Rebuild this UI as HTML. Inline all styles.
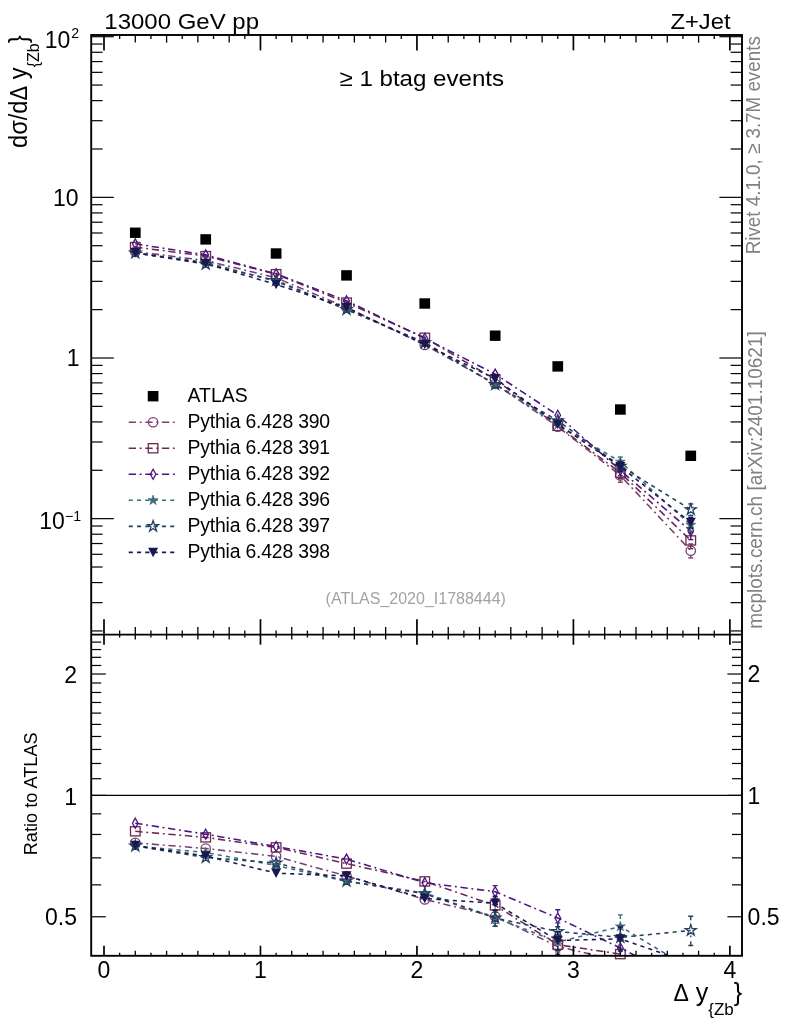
<!DOCTYPE html>
<html lang="en">
<head>
<meta charset="utf-8">
<title>Z+Jet : ATLAS_2020_I1788444</title>
<style>
html,body{margin:0;padding:0;background:#fff;}
body{width:786px;height:1024px;overflow:hidden;}
svg{display:block;will-change:transform;}
text{white-space:pre;}
</style>
</head>
<body>
<svg width="786" height="1024" viewBox="0 0 786 1024" font-family="'Liberation Sans', sans-serif">
<defs>
<clipPath id="cm"><rect x="91.2" y="35" width="650.8" height="599.6"/></clipPath>
<clipPath id="cr"><rect x="91.2" y="634.6" width="650.8" height="321.2"/></clipPath>
</defs>
<rect width="786" height="1024" fill="#fff"/>
<g id="main-curves">
<polyline points="135.29,251.64 205.71,260.56 276.12,277.8 346.53,307.51 424.76,344.94 495.18,383.95 557.76,426.6 620.35,475.48 690.76,550.71" fill="none" stroke="#7a3f73" stroke-width="1.55" stroke-dasharray="7.3 3.7 1.9 3.7" clip-path="url(#cm)"/>
<circle cx="135.29" cy="251.64" r="4.7" fill="none" stroke="#7a3f73" stroke-width="1.3"/>
<circle cx="205.71" cy="260.56" r="4.7" fill="none" stroke="#7a3f73" stroke-width="1.3"/>
<circle cx="276.12" cy="277.8" r="4.7" fill="none" stroke="#7a3f73" stroke-width="1.3"/>
<circle cx="346.53" cy="307.51" r="4.7" fill="none" stroke="#7a3f73" stroke-width="1.3"/>
<circle cx="424.76" cy="344.94" r="4.7" fill="none" stroke="#7a3f73" stroke-width="1.3"/>
<circle cx="495.18" cy="383.95" r="4.7" fill="none" stroke="#7a3f73" stroke-width="1.3"/>
<circle cx="557.76" cy="426.6" r="4.7" fill="none" stroke="#7a3f73" stroke-width="1.3"/>
<line x1="620.35" y1="469.11" x2="620.35" y2="470.68" stroke="#7a3f73" stroke-width="1.4" stroke-dasharray="7.3 3.7 1.9 3.7"/>
<line x1="617.85" y1="469.11" x2="622.85" y2="469.11" stroke="#7a3f73" stroke-width="1.4"/>
<line x1="620.35" y1="482.24" x2="620.35" y2="480.28" stroke="#7a3f73" stroke-width="1.4" stroke-dasharray="7.3 3.7 1.9 3.7"/>
<line x1="617.85" y1="482.24" x2="622.85" y2="482.24" stroke="#7a3f73" stroke-width="1.4"/>
<circle cx="620.35" cy="475.48" r="4.7" fill="none" stroke="#7a3f73" stroke-width="1.3"/>
<line x1="690.76" y1="543.93" x2="690.76" y2="545.91" stroke="#7a3f73" stroke-width="1.4" stroke-dasharray="7.3 3.7 1.9 3.7"/>
<line x1="688.26" y1="543.93" x2="693.26" y2="543.93" stroke="#7a3f73" stroke-width="1.4"/>
<line x1="690.76" y1="557.89" x2="690.76" y2="555.51" stroke="#7a3f73" stroke-width="1.4" stroke-dasharray="7.3 3.7 1.9 3.7"/>
<line x1="688.26" y1="557.89" x2="693.26" y2="557.89" stroke="#7a3f73" stroke-width="1.4"/>
<circle cx="690.76" cy="550.71" r="4.7" fill="none" stroke="#7a3f73" stroke-width="1.3"/>
<polyline points="135.29,247.05 205.71,256.13 276.12,274.22 346.53,302.57 424.76,337.77 495.18,379.53 557.76,425.89 620.35,472.73 690.76,540.43" fill="none" stroke="#6b2a4f" stroke-width="1.55" stroke-dasharray="7.3 3.7 1.9 3.7" clip-path="url(#cm)"/>
<rect x="130.49" y="242.45" width="9.6" height="9.2" fill="none" stroke="#6b2a4f" stroke-width="1.3"/>
<rect x="200.91" y="251.53" width="9.6" height="9.2" fill="none" stroke="#6b2a4f" stroke-width="1.3"/>
<rect x="271.32" y="269.62" width="9.6" height="9.2" fill="none" stroke="#6b2a4f" stroke-width="1.3"/>
<rect x="341.73" y="297.97" width="9.6" height="9.2" fill="none" stroke="#6b2a4f" stroke-width="1.3"/>
<rect x="419.96" y="333.17" width="9.6" height="9.2" fill="none" stroke="#6b2a4f" stroke-width="1.3"/>
<rect x="490.38" y="374.93" width="9.6" height="9.2" fill="none" stroke="#6b2a4f" stroke-width="1.3"/>
<rect x="552.96" y="421.29" width="9.6" height="9.2" fill="none" stroke="#6b2a4f" stroke-width="1.3"/>
<line x1="620.35" y1="467.15" x2="620.35" y2="467.93" stroke="#6b2a4f" stroke-width="1.4" stroke-dasharray="7.3 3.7 1.9 3.7"/>
<line x1="617.85" y1="467.15" x2="622.85" y2="467.15" stroke="#6b2a4f" stroke-width="1.4"/>
<line x1="620.35" y1="478.64" x2="620.35" y2="477.53" stroke="#6b2a4f" stroke-width="1.4" stroke-dasharray="7.3 3.7 1.9 3.7"/>
<line x1="617.85" y1="478.64" x2="622.85" y2="478.64" stroke="#6b2a4f" stroke-width="1.4"/>
<rect x="615.55" y="468.13" width="9.6" height="9.2" fill="none" stroke="#6b2a4f" stroke-width="1.3"/>
<line x1="690.76" y1="532.62" x2="690.76" y2="535.63" stroke="#6b2a4f" stroke-width="1.4" stroke-dasharray="7.3 3.7 1.9 3.7"/>
<line x1="688.26" y1="532.62" x2="693.26" y2="532.62" stroke="#6b2a4f" stroke-width="1.4"/>
<line x1="690.76" y1="548.71" x2="690.76" y2="545.23" stroke="#6b2a4f" stroke-width="1.4" stroke-dasharray="7.3 3.7 1.9 3.7"/>
<line x1="688.26" y1="548.71" x2="693.26" y2="548.71" stroke="#6b2a4f" stroke-width="1.4"/>
<rect x="685.96" y="535.83" width="9.6" height="9.2" fill="none" stroke="#6b2a4f" stroke-width="1.3"/>
<polyline points="135.29,243.83 205.71,254.86 276.12,273.86 346.53,300.78 424.76,338.28 495.18,374.07 557.76,415.25 620.35,470.3 690.76,530.95" fill="none" stroke="#4b1480" stroke-width="1.55" stroke-dasharray="7.3 3.7 1.9 3.7" clip-path="url(#cm)"/>
<polygon points="135.29,238.83 138.09,243.83 135.29,248.83 132.49,243.83" fill="none" stroke="#4b1480" stroke-width="1.3"/>
<polygon points="205.71,249.86 208.51,254.86 205.71,259.86 202.91,254.86" fill="none" stroke="#4b1480" stroke-width="1.3"/>
<polygon points="276.12,268.86 278.92,273.86 276.12,278.86 273.32,273.86" fill="none" stroke="#4b1480" stroke-width="1.3"/>
<polygon points="346.53,295.78 349.33,300.78 346.53,305.78 343.73,300.78" fill="none" stroke="#4b1480" stroke-width="1.3"/>
<polygon points="424.76,333.28 427.56,338.28 424.76,343.28 421.96,338.28" fill="none" stroke="#4b1480" stroke-width="1.3"/>
<polygon points="495.18,369.07 497.98,374.07 495.18,379.07 492.38,374.07" fill="none" stroke="#4b1480" stroke-width="1.3"/>
<polygon points="557.76,410.25 560.56,415.25 557.76,420.25 554.96,415.25" fill="none" stroke="#4b1480" stroke-width="1.3"/>
<line x1="620.35" y1="465.12" x2="620.35" y2="465.5" stroke="#4b1480" stroke-width="1.4" stroke-dasharray="7.3 3.7 1.9 3.7"/>
<line x1="617.85" y1="465.12" x2="622.85" y2="465.12" stroke="#4b1480" stroke-width="1.4"/>
<line x1="620.35" y1="475.79" x2="620.35" y2="475.1" stroke="#4b1480" stroke-width="1.4" stroke-dasharray="7.3 3.7 1.9 3.7"/>
<line x1="617.85" y1="475.79" x2="622.85" y2="475.79" stroke="#4b1480" stroke-width="1.4"/>
<polygon points="620.35,465.3 623.15,470.3 620.35,475.3 617.55,470.3" fill="none" stroke="#4b1480" stroke-width="1.3"/>
<line x1="690.76" y1="522.74" x2="690.76" y2="526.15" stroke="#4b1480" stroke-width="1.4" stroke-dasharray="7.3 3.7 1.9 3.7"/>
<line x1="688.26" y1="522.74" x2="693.26" y2="522.74" stroke="#4b1480" stroke-width="1.4"/>
<line x1="690.76" y1="539.65" x2="690.76" y2="535.75" stroke="#4b1480" stroke-width="1.4" stroke-dasharray="7.3 3.7 1.9 3.7"/>
<line x1="688.26" y1="539.65" x2="693.26" y2="539.65" stroke="#4b1480" stroke-width="1.4"/>
<polygon points="690.76,525.95 693.56,530.95 690.76,535.95 687.96,530.95" fill="none" stroke="#4b1480" stroke-width="1.3"/>
<polyline points="135.29,252.91 205.71,262.15 276.12,281.43 346.53,309.71 424.76,342.39 495.18,384.35 557.76,424.81 620.35,461.74 690.76,524.97" fill="none" stroke="#3f6b78" stroke-width="1.55" stroke-dasharray="4.1 4.2" clip-path="url(#cm)"/>
<polygon points="135.29,247.71 136.46,251.3 140.24,251.3 137.18,253.52 138.35,257.12 135.29,254.9 132.24,257.12 133.4,253.52 130.35,251.3 134.13,251.3" fill="#3f6b78" stroke="#3f6b78" stroke-width="0.7" stroke-linejoin="miter"/>
<polygon points="205.71,256.95 206.87,260.54 210.65,260.54 207.59,262.76 208.76,266.36 205.71,264.14 202.65,266.36 203.82,262.76 200.76,260.54 204.54,260.54" fill="#3f6b78" stroke="#3f6b78" stroke-width="0.7" stroke-linejoin="miter"/>
<polygon points="276.12,276.23 277.28,279.82 281.06,279.82 278.01,282.04 279.17,285.64 276.12,283.42 273.06,285.64 274.23,282.04 271.17,279.82 274.95,279.82" fill="#3f6b78" stroke="#3f6b78" stroke-width="0.7" stroke-linejoin="miter"/>
<polygon points="346.53,304.51 347.7,308.1 351.47,308.1 348.42,310.32 349.58,313.91 346.53,311.69 343.47,313.91 344.64,310.32 341.58,308.1 345.36,308.1" fill="#3f6b78" stroke="#3f6b78" stroke-width="0.7" stroke-linejoin="miter"/>
<polygon points="424.76,337.19 425.93,340.78 429.71,340.78 426.65,343 427.82,346.59 424.76,344.37 421.71,346.59 422.87,343 419.82,340.78 423.6,340.78" fill="#3f6b78" stroke="#3f6b78" stroke-width="0.7" stroke-linejoin="miter"/>
<polygon points="495.18,379.15 496.34,382.74 500.12,382.74 497.06,384.96 498.23,388.56 495.18,386.34 492.12,388.56 493.29,384.96 490.23,382.74 494.01,382.74" fill="#3f6b78" stroke="#3f6b78" stroke-width="0.7" stroke-linejoin="miter"/>
<polygon points="557.76,419.61 558.93,423.2 562.71,423.2 559.65,425.42 560.82,429.02 557.76,426.8 554.71,429.02 555.87,425.42 552.82,423.2 556.6,423.2" fill="#3f6b78" stroke="#3f6b78" stroke-width="0.7" stroke-linejoin="miter"/>
<line x1="617.85" y1="457.11" x2="622.85" y2="457.11" stroke="#3f6b78" stroke-width="1.4"/>
<line x1="620.35" y1="466.63" x2="620.35" y2="466.54" stroke="#3f6b78" stroke-width="1.4" stroke-dasharray="4.1 4.2"/>
<line x1="617.85" y1="466.63" x2="622.85" y2="466.63" stroke="#3f6b78" stroke-width="1.4"/>
<polygon points="620.35,456.54 621.52,460.13 625.3,460.13 622.24,462.35 623.41,465.94 620.35,463.72 617.29,465.94 618.46,462.35 615.41,460.13 619.18,460.13" fill="#3f6b78" stroke="#3f6b78" stroke-width="0.7" stroke-linejoin="miter"/>
<line x1="690.76" y1="518.99" x2="690.76" y2="520.17" stroke="#3f6b78" stroke-width="1.4" stroke-dasharray="4.1 4.2"/>
<line x1="688.26" y1="518.99" x2="693.26" y2="518.99" stroke="#3f6b78" stroke-width="1.4"/>
<line x1="690.76" y1="531.3" x2="690.76" y2="529.77" stroke="#3f6b78" stroke-width="1.4" stroke-dasharray="4.1 4.2"/>
<line x1="688.26" y1="531.3" x2="693.26" y2="531.3" stroke="#3f6b78" stroke-width="1.4"/>
<polygon points="690.76,519.77 691.93,523.36 695.71,523.36 692.65,525.58 693.82,529.18 690.76,526.96 687.71,529.18 688.87,525.58 685.82,523.36 689.59,523.36" fill="#3f6b78" stroke="#3f6b78" stroke-width="0.7" stroke-linejoin="miter"/>
<polyline points="135.29,252.91 205.71,264.14 276.12,280.43 346.53,309.51 424.76,342.71 495.18,384.55 557.76,420.63 620.35,466.08 690.76,509.59" fill="none" stroke="#23405f" stroke-width="1.55" stroke-dasharray="4.1 4.2" clip-path="url(#cm)"/>
<polygon points="135.29,247.11 136.6,251.12 140.81,251.12 137.4,253.6 138.7,257.6 135.29,255.13 131.88,257.6 133.19,253.6 129.78,251.12 133.99,251.12" fill="none" stroke="#23405f" stroke-width="1.3"/>
<polygon points="205.71,258.34 207.01,262.35 211.22,262.35 207.81,264.83 209.11,268.84 205.71,266.36 202.3,268.84 203.6,264.83 200.19,262.35 204.4,262.35" fill="none" stroke="#23405f" stroke-width="1.3"/>
<polygon points="276.12,274.63 277.42,278.64 281.63,278.64 278.22,281.12 279.53,285.13 276.12,282.65 272.71,285.13 274.01,281.12 270.6,278.64 274.81,278.64" fill="none" stroke="#23405f" stroke-width="1.3"/>
<polygon points="346.53,303.71 347.83,307.71 352.04,307.71 348.64,310.19 349.94,314.2 346.53,311.72 343.12,314.2 344.42,310.19 341.01,307.71 345.23,307.71" fill="none" stroke="#23405f" stroke-width="1.3"/>
<polygon points="424.76,336.91 426.07,340.91 430.28,340.91 426.87,343.39 428.17,347.4 424.76,344.92 421.35,347.4 422.66,343.39 419.25,340.91 423.46,340.91" fill="none" stroke="#23405f" stroke-width="1.3"/>
<polygon points="495.18,378.75 496.48,382.76 500.69,382.76 497.28,385.23 498.58,389.24 495.18,386.76 491.77,389.24 493.07,385.23 489.66,382.76 493.87,382.76" fill="none" stroke="#23405f" stroke-width="1.3"/>
<polygon points="557.76,414.83 559.07,418.83 563.28,418.84 559.87,421.31 561.17,425.32 557.76,422.84 554.35,425.32 555.66,421.31 552.25,418.84 556.46,418.83" fill="none" stroke="#23405f" stroke-width="1.3"/>
<line x1="617.85" y1="461.7" x2="622.85" y2="461.7" stroke="#23405f" stroke-width="1.4"/>
<line x1="617.85" y1="470.72" x2="622.85" y2="470.72" stroke="#23405f" stroke-width="1.4"/>
<polygon points="620.35,460.28 621.65,464.29 625.87,464.29 622.46,466.76 623.76,470.77 620.35,468.29 616.94,470.77 618.24,466.76 614.83,464.29 619.05,464.29" fill="none" stroke="#23405f" stroke-width="1.3"/>
<line x1="690.76" y1="503.93" x2="690.76" y2="504.79" stroke="#23405f" stroke-width="1.4" stroke-dasharray="4.1 4.2"/>
<line x1="688.26" y1="503.93" x2="693.26" y2="503.93" stroke="#23405f" stroke-width="1.4"/>
<line x1="690.76" y1="515.59" x2="690.76" y2="514.39" stroke="#23405f" stroke-width="1.4" stroke-dasharray="4.1 4.2"/>
<line x1="688.26" y1="515.59" x2="693.26" y2="515.59" stroke="#23405f" stroke-width="1.4"/>
<polygon points="690.76,503.79 692.06,507.8 696.28,507.8 692.87,510.27 694.17,514.28 690.76,511.8 687.35,514.28 688.66,510.27 685.25,507.8 689.46,507.8" fill="none" stroke="#23405f" stroke-width="1.3"/>
<polyline points="135.29,252.75 205.71,263.55 276.12,284.5 346.53,307.47 424.76,344.62 495.18,378.65 557.76,424.21 620.35,466.68 690.76,522.58" fill="none" stroke="#1a1850" stroke-width="1.55" stroke-dasharray="4.1 4.2" clip-path="url(#cm)"/>
<polygon points="130.29,248 140.29,248 135.29,257.5" fill="#1a1850"/>
<polygon points="200.71,258.8 210.71,258.8 205.71,268.3" fill="#1a1850"/>
<polygon points="271.12,279.75 281.12,279.75 276.12,289.25" fill="#1a1850"/>
<polygon points="341.53,302.72 351.53,302.72 346.53,312.22" fill="#1a1850"/>
<polygon points="419.76,339.87 429.76,339.87 424.76,349.37" fill="#1a1850"/>
<polygon points="490.18,373.9 500.18,373.9 495.18,383.4" fill="#1a1850"/>
<polygon points="552.76,419.46 562.76,419.46 557.76,428.96" fill="#1a1850"/>
<line x1="617.85" y1="462.09" x2="622.85" y2="462.09" stroke="#1a1850" stroke-width="1.4"/>
<line x1="620.35" y1="471.53" x2="620.35" y2="471.48" stroke="#1a1850" stroke-width="1.4" stroke-dasharray="4.1 4.2"/>
<line x1="617.85" y1="471.53" x2="622.85" y2="471.53" stroke="#1a1850" stroke-width="1.4"/>
<polygon points="615.35,461.93 625.35,461.93 620.35,471.43" fill="#1a1850"/>
<line x1="690.76" y1="517.4" x2="690.76" y2="517.78" stroke="#1a1850" stroke-width="1.4" stroke-dasharray="4.1 4.2"/>
<line x1="688.26" y1="517.4" x2="693.26" y2="517.4" stroke="#1a1850" stroke-width="1.4"/>
<line x1="690.76" y1="528.07" x2="690.76" y2="527.38" stroke="#1a1850" stroke-width="1.4" stroke-dasharray="4.1 4.2"/>
<line x1="688.26" y1="528.07" x2="693.26" y2="528.07" stroke="#1a1850" stroke-width="1.4"/>
<polygon points="685.76,517.83 695.76,517.83 690.76,527.33" fill="#1a1850"/>
<rect x="129.94" y="227.55" width="10.7" height="10.4" fill="#000"/>
<rect x="200.36" y="234.2" width="10.7" height="10.4" fill="#000"/>
<rect x="270.77" y="248.3" width="10.7" height="10.4" fill="#000"/>
<rect x="341.18" y="270.2" width="10.7" height="10.4" fill="#000"/>
<rect x="419.41" y="298.3" width="10.7" height="10.4" fill="#000"/>
<rect x="489.82" y="330.5" width="10.7" height="10.4" fill="#000"/>
<rect x="552.41" y="361.2" width="10.7" height="10.4" fill="#000"/>
<rect x="615" y="404.3" width="10.7" height="10.4" fill="#000"/>
<rect x="685.41" y="450.6" width="10.7" height="10.4" fill="#000"/>
</g>
<g id="ratio-curves">
<line x1="91.2" y1="795.4" x2="742" y2="795.4" stroke="#000" stroke-width="1.3"/>
<polyline points="135.29,842.8 205.71,848.5 276.12,856.4 346.53,876 424.76,899.4 495.18,916.5 557.76,946.5 620.35,961 690.76,1033.6" fill="none" stroke="#7a3f73" stroke-width="1.55" stroke-dasharray="7.3 3.7 1.9 3.7" clip-path="url(#cr)"/>
<g clip-path="url(#cr)">
<line x1="495.18" y1="910" x2="495.18" y2="911.3" stroke="#7a3f73" stroke-width="1.4" stroke-dasharray="7.3 3.7 1.9 3.7"/>
<line x1="492.68" y1="910" x2="497.68" y2="910" stroke="#7a3f73" stroke-width="1.4"/>
<line x1="495.18" y1="923.39" x2="495.18" y2="921.7" stroke="#7a3f73" stroke-width="1.4" stroke-dasharray="7.3 3.7 1.9 3.7"/>
<line x1="492.68" y1="923.39" x2="497.68" y2="923.39" stroke="#7a3f73" stroke-width="1.4"/>
<line x1="557.76" y1="937.5" x2="557.76" y2="941.3" stroke="#7a3f73" stroke-width="1.4" stroke-dasharray="7.3 3.7 1.9 3.7"/>
<line x1="555.26" y1="937.5" x2="560.26" y2="937.5" stroke="#7a3f73" stroke-width="1.4"/>
<line x1="557.76" y1="956.04" x2="557.76" y2="951.7" stroke="#7a3f73" stroke-width="1.4" stroke-dasharray="7.3 3.7 1.9 3.7"/>
<line x1="555.26" y1="956.04" x2="560.26" y2="956.04" stroke="#7a3f73" stroke-width="1.4"/>
</g>
<circle cx="135.29" cy="842.8" r="4.7" fill="none" stroke="#7a3f73" stroke-width="1.3"/>
<circle cx="205.71" cy="848.5" r="4.7" fill="none" stroke="#7a3f73" stroke-width="1.3"/>
<circle cx="276.12" cy="856.4" r="4.7" fill="none" stroke="#7a3f73" stroke-width="1.3"/>
<circle cx="346.53" cy="876" r="4.7" fill="none" stroke="#7a3f73" stroke-width="1.3"/>
<circle cx="424.76" cy="899.4" r="4.7" fill="none" stroke="#7a3f73" stroke-width="1.3"/>
<circle cx="495.18" cy="916.5" r="4.7" fill="none" stroke="#7a3f73" stroke-width="1.3"/>
<circle cx="557.76" cy="946.5" r="4.7" fill="none" stroke="#7a3f73" stroke-width="1.3"/>
<polyline points="135.29,831.3 205.71,837.4 276.12,847.4 346.53,863.6 424.76,881.4 495.18,905.4 557.76,944.7 620.35,954.1 690.76,1007.8" fill="none" stroke="#6b2a4f" stroke-width="1.55" stroke-dasharray="7.3 3.7 1.9 3.7" clip-path="url(#cr)"/>
<g clip-path="url(#cr)">
<line x1="495.18" y1="898.9" x2="495.18" y2="900.2" stroke="#6b2a4f" stroke-width="1.4" stroke-dasharray="7.3 3.7 1.9 3.7"/>
<line x1="492.68" y1="898.9" x2="497.68" y2="898.9" stroke="#6b2a4f" stroke-width="1.4"/>
<line x1="495.18" y1="912.29" x2="495.18" y2="910.6" stroke="#6b2a4f" stroke-width="1.4" stroke-dasharray="7.3 3.7 1.9 3.7"/>
<line x1="492.68" y1="912.29" x2="497.68" y2="912.29" stroke="#6b2a4f" stroke-width="1.4"/>
<line x1="557.76" y1="935.7" x2="557.76" y2="939.5" stroke="#6b2a4f" stroke-width="1.4" stroke-dasharray="7.3 3.7 1.9 3.7"/>
<line x1="555.26" y1="935.7" x2="560.26" y2="935.7" stroke="#6b2a4f" stroke-width="1.4"/>
<line x1="557.76" y1="954.24" x2="557.76" y2="949.9" stroke="#6b2a4f" stroke-width="1.4" stroke-dasharray="7.3 3.7 1.9 3.7"/>
<line x1="555.26" y1="954.24" x2="560.26" y2="954.24" stroke="#6b2a4f" stroke-width="1.4"/>
<line x1="620.35" y1="940.1" x2="620.35" y2="948.9" stroke="#6b2a4f" stroke-width="1.4" stroke-dasharray="7.3 3.7 1.9 3.7"/>
<line x1="617.85" y1="940.1" x2="622.85" y2="940.1" stroke="#6b2a4f" stroke-width="1.4"/>
<line x1="620.35" y1="968.94" x2="620.35" y2="959.3" stroke="#6b2a4f" stroke-width="1.4" stroke-dasharray="7.3 3.7 1.9 3.7"/>
<line x1="617.85" y1="968.94" x2="622.85" y2="968.94" stroke="#6b2a4f" stroke-width="1.4"/>
</g>
<rect x="130.49" y="826.7" width="9.6" height="9.2" fill="none" stroke="#6b2a4f" stroke-width="1.3"/>
<rect x="200.91" y="832.8" width="9.6" height="9.2" fill="none" stroke="#6b2a4f" stroke-width="1.3"/>
<rect x="271.32" y="842.8" width="9.6" height="9.2" fill="none" stroke="#6b2a4f" stroke-width="1.3"/>
<rect x="341.73" y="859" width="9.6" height="9.2" fill="none" stroke="#6b2a4f" stroke-width="1.3"/>
<rect x="419.96" y="876.8" width="9.6" height="9.2" fill="none" stroke="#6b2a4f" stroke-width="1.3"/>
<rect x="490.38" y="900.8" width="9.6" height="9.2" fill="none" stroke="#6b2a4f" stroke-width="1.3"/>
<rect x="552.96" y="940.1" width="9.6" height="9.2" fill="none" stroke="#6b2a4f" stroke-width="1.3"/>
<rect x="615.55" y="949.5" width="9.6" height="9.2" fill="none" stroke="#6b2a4f" stroke-width="1.3"/>
<polyline points="135.29,823.2 205.71,834.2 276.12,846.5 346.53,859.1 424.76,882.7 495.18,891.7 557.76,918 620.35,948 690.76,984" fill="none" stroke="#4b1480" stroke-width="1.55" stroke-dasharray="7.3 3.7 1.9 3.7" clip-path="url(#cr)"/>
<g clip-path="url(#cr)">
<line x1="495.18" y1="885.6" x2="495.18" y2="886.5" stroke="#4b1480" stroke-width="1.4" stroke-dasharray="7.3 3.7 1.9 3.7"/>
<line x1="492.68" y1="885.6" x2="497.68" y2="885.6" stroke="#4b1480" stroke-width="1.4"/>
<line x1="495.18" y1="898.17" x2="495.18" y2="896.9" stroke="#4b1480" stroke-width="1.4" stroke-dasharray="7.3 3.7 1.9 3.7"/>
<line x1="492.68" y1="898.17" x2="497.68" y2="898.17" stroke="#4b1480" stroke-width="1.4"/>
<line x1="557.76" y1="909.7" x2="557.76" y2="912.8" stroke="#4b1480" stroke-width="1.4" stroke-dasharray="7.3 3.7 1.9 3.7"/>
<line x1="555.26" y1="909.7" x2="560.26" y2="909.7" stroke="#4b1480" stroke-width="1.4"/>
<line x1="557.76" y1="926.8" x2="557.76" y2="923.2" stroke="#4b1480" stroke-width="1.4" stroke-dasharray="7.3 3.7 1.9 3.7"/>
<line x1="555.26" y1="926.8" x2="560.26" y2="926.8" stroke="#4b1480" stroke-width="1.4"/>
<line x1="620.35" y1="935" x2="620.35" y2="942.8" stroke="#4b1480" stroke-width="1.4" stroke-dasharray="7.3 3.7 1.9 3.7"/>
<line x1="617.85" y1="935" x2="622.85" y2="935" stroke="#4b1480" stroke-width="1.4"/>
<line x1="620.35" y1="961.78" x2="620.35" y2="953.2" stroke="#4b1480" stroke-width="1.4" stroke-dasharray="7.3 3.7 1.9 3.7"/>
<line x1="617.85" y1="961.78" x2="622.85" y2="961.78" stroke="#4b1480" stroke-width="1.4"/>
</g>
<polygon points="135.29,818.2 138.09,823.2 135.29,828.2 132.49,823.2" fill="none" stroke="#4b1480" stroke-width="1.3"/>
<polygon points="205.71,829.2 208.51,834.2 205.71,839.2 202.91,834.2" fill="none" stroke="#4b1480" stroke-width="1.3"/>
<polygon points="276.12,841.5 278.92,846.5 276.12,851.5 273.32,846.5" fill="none" stroke="#4b1480" stroke-width="1.3"/>
<polygon points="346.53,854.1 349.33,859.1 346.53,864.1 343.73,859.1" fill="none" stroke="#4b1480" stroke-width="1.3"/>
<polygon points="424.76,877.7 427.56,882.7 424.76,887.7 421.96,882.7" fill="none" stroke="#4b1480" stroke-width="1.3"/>
<polygon points="495.18,886.7 497.98,891.7 495.18,896.7 492.38,891.7" fill="none" stroke="#4b1480" stroke-width="1.3"/>
<polygon points="557.76,913 560.56,918 557.76,923 554.96,918" fill="none" stroke="#4b1480" stroke-width="1.3"/>
<polygon points="620.35,943 623.15,948 620.35,953 617.55,948" fill="none" stroke="#4b1480" stroke-width="1.3"/>
<polyline points="135.29,846 205.71,852.5 276.12,865.5 346.53,881.5 424.76,893 495.18,917.5 557.76,942 620.35,926.5 690.76,969" fill="none" stroke="#3f6b78" stroke-width="1.55" stroke-dasharray="4.1 4.2" clip-path="url(#cr)"/>
<g clip-path="url(#cr)">
<line x1="495.18" y1="909.6" x2="495.18" y2="912.3" stroke="#3f6b78" stroke-width="1.4" stroke-dasharray="4.1 4.2"/>
<line x1="492.68" y1="909.6" x2="497.68" y2="909.6" stroke="#3f6b78" stroke-width="1.4"/>
<line x1="495.18" y1="925.87" x2="495.18" y2="922.7" stroke="#3f6b78" stroke-width="1.4" stroke-dasharray="4.1 4.2"/>
<line x1="492.68" y1="925.87" x2="497.68" y2="925.87" stroke="#3f6b78" stroke-width="1.4"/>
<line x1="557.76" y1="932.5" x2="557.76" y2="936.8" stroke="#3f6b78" stroke-width="1.4" stroke-dasharray="4.1 4.2"/>
<line x1="555.26" y1="932.5" x2="560.26" y2="932.5" stroke="#3f6b78" stroke-width="1.4"/>
<line x1="557.76" y1="952.07" x2="557.76" y2="947.2" stroke="#3f6b78" stroke-width="1.4" stroke-dasharray="4.1 4.2"/>
<line x1="555.26" y1="952.07" x2="560.26" y2="952.07" stroke="#3f6b78" stroke-width="1.4"/>
<line x1="620.35" y1="914.9" x2="620.35" y2="921.3" stroke="#3f6b78" stroke-width="1.4" stroke-dasharray="4.1 4.2"/>
<line x1="617.85" y1="914.9" x2="622.85" y2="914.9" stroke="#3f6b78" stroke-width="1.4"/>
<line x1="620.35" y1="938.8" x2="620.35" y2="931.7" stroke="#3f6b78" stroke-width="1.4" stroke-dasharray="4.1 4.2"/>
<line x1="617.85" y1="938.8" x2="622.85" y2="938.8" stroke="#3f6b78" stroke-width="1.4"/>
</g>
<polygon points="135.29,840.8 136.46,844.39 140.24,844.39 137.18,846.61 138.35,850.21 135.29,847.99 132.24,850.21 133.4,846.61 130.35,844.39 134.13,844.39" fill="#3f6b78" stroke="#3f6b78" stroke-width="0.7" stroke-linejoin="miter"/>
<polygon points="205.71,847.3 206.87,850.89 210.65,850.89 207.59,853.11 208.76,856.71 205.71,854.49 202.65,856.71 203.82,853.11 200.76,850.89 204.54,850.89" fill="#3f6b78" stroke="#3f6b78" stroke-width="0.7" stroke-linejoin="miter"/>
<polygon points="276.12,860.3 277.28,863.89 281.06,863.89 278.01,866.11 279.17,869.71 276.12,867.49 273.06,869.71 274.23,866.11 271.17,863.89 274.95,863.89" fill="#3f6b78" stroke="#3f6b78" stroke-width="0.7" stroke-linejoin="miter"/>
<polygon points="346.53,876.3 347.7,879.89 351.47,879.89 348.42,882.11 349.58,885.71 346.53,883.49 343.47,885.71 344.64,882.11 341.58,879.89 345.36,879.89" fill="#3f6b78" stroke="#3f6b78" stroke-width="0.7" stroke-linejoin="miter"/>
<polygon points="424.76,887.8 425.93,891.39 429.71,891.39 426.65,893.61 427.82,897.21 424.76,894.99 421.71,897.21 422.87,893.61 419.82,891.39 423.6,891.39" fill="#3f6b78" stroke="#3f6b78" stroke-width="0.7" stroke-linejoin="miter"/>
<polygon points="495.18,912.3 496.34,915.89 500.12,915.89 497.06,918.11 498.23,921.71 495.18,919.49 492.12,921.71 493.29,918.11 490.23,915.89 494.01,915.89" fill="#3f6b78" stroke="#3f6b78" stroke-width="0.7" stroke-linejoin="miter"/>
<polygon points="557.76,936.8 558.93,940.39 562.71,940.39 559.65,942.61 560.82,946.21 557.76,943.99 554.71,946.21 555.87,942.61 552.82,940.39 556.6,940.39" fill="#3f6b78" stroke="#3f6b78" stroke-width="0.7" stroke-linejoin="miter"/>
<polygon points="620.35,921.3 621.52,924.89 625.3,924.89 622.24,927.11 623.41,930.71 620.35,928.49 617.29,930.71 618.46,927.11 615.41,924.89 619.18,924.89" fill="#3f6b78" stroke="#3f6b78" stroke-width="0.7" stroke-linejoin="miter"/>
<polyline points="135.29,846 205.71,857.5 276.12,863 346.53,881 424.76,893.8 495.18,918 557.76,931.5 620.35,937.4 690.76,930.4" fill="none" stroke="#23405f" stroke-width="1.55" stroke-dasharray="4.1 4.2" clip-path="url(#cr)"/>
<g clip-path="url(#cr)">
<line x1="495.18" y1="910.1" x2="495.18" y2="912.8" stroke="#23405f" stroke-width="1.4" stroke-dasharray="4.1 4.2"/>
<line x1="492.68" y1="910.1" x2="497.68" y2="910.1" stroke="#23405f" stroke-width="1.4"/>
<line x1="495.18" y1="926.37" x2="495.18" y2="923.2" stroke="#23405f" stroke-width="1.4" stroke-dasharray="4.1 4.2"/>
<line x1="492.68" y1="926.37" x2="497.68" y2="926.37" stroke="#23405f" stroke-width="1.4"/>
<line x1="557.76" y1="922.9" x2="557.76" y2="926.3" stroke="#23405f" stroke-width="1.4" stroke-dasharray="4.1 4.2"/>
<line x1="555.26" y1="922.9" x2="560.26" y2="922.9" stroke="#23405f" stroke-width="1.4"/>
<line x1="557.76" y1="940.62" x2="557.76" y2="936.7" stroke="#23405f" stroke-width="1.4" stroke-dasharray="4.1 4.2"/>
<line x1="555.26" y1="940.62" x2="560.26" y2="940.62" stroke="#23405f" stroke-width="1.4"/>
<line x1="620.35" y1="926.4" x2="620.35" y2="932.2" stroke="#23405f" stroke-width="1.4" stroke-dasharray="4.1 4.2"/>
<line x1="617.85" y1="926.4" x2="622.85" y2="926.4" stroke="#23405f" stroke-width="1.4"/>
<line x1="620.35" y1="949.06" x2="620.35" y2="942.6" stroke="#23405f" stroke-width="1.4" stroke-dasharray="4.1 4.2"/>
<line x1="617.85" y1="949.06" x2="622.85" y2="949.06" stroke="#23405f" stroke-width="1.4"/>
<line x1="690.76" y1="916.2" x2="690.76" y2="925.2" stroke="#23405f" stroke-width="1.4" stroke-dasharray="4.1 4.2"/>
<line x1="688.26" y1="916.2" x2="693.26" y2="916.2" stroke="#23405f" stroke-width="1.4"/>
<line x1="690.76" y1="945.45" x2="690.76" y2="935.6" stroke="#23405f" stroke-width="1.4" stroke-dasharray="4.1 4.2"/>
<line x1="688.26" y1="945.45" x2="693.26" y2="945.45" stroke="#23405f" stroke-width="1.4"/>
</g>
<polygon points="135.29,840.2 136.6,844.21 140.81,844.21 137.4,846.68 138.7,850.69 135.29,848.22 131.88,850.69 133.19,846.68 129.78,844.21 133.99,844.21" fill="none" stroke="#23405f" stroke-width="1.3"/>
<polygon points="205.71,851.7 207.01,855.71 211.22,855.71 207.81,858.18 209.11,862.19 205.71,859.72 202.3,862.19 203.6,858.18 200.19,855.71 204.4,855.71" fill="none" stroke="#23405f" stroke-width="1.3"/>
<polygon points="276.12,857.2 277.42,861.21 281.63,861.21 278.22,863.68 279.53,867.69 276.12,865.22 272.71,867.69 274.01,863.68 270.6,861.21 274.81,861.21" fill="none" stroke="#23405f" stroke-width="1.3"/>
<polygon points="346.53,875.2 347.83,879.21 352.04,879.21 348.64,881.68 349.94,885.69 346.53,883.22 343.12,885.69 344.42,881.68 341.01,879.21 345.23,879.21" fill="none" stroke="#23405f" stroke-width="1.3"/>
<polygon points="424.76,888 426.07,892.01 430.28,892.01 426.87,894.48 428.17,898.49 424.76,896.02 421.35,898.49 422.66,894.48 419.25,892.01 423.46,892.01" fill="none" stroke="#23405f" stroke-width="1.3"/>
<polygon points="495.18,912.2 496.48,916.21 500.69,916.21 497.28,918.68 498.58,922.69 495.18,920.22 491.77,922.69 493.07,918.68 489.66,916.21 493.87,916.21" fill="none" stroke="#23405f" stroke-width="1.3"/>
<polygon points="557.76,925.7 559.07,929.71 563.28,929.71 559.87,932.18 561.17,936.19 557.76,933.72 554.35,936.19 555.66,932.18 552.25,929.71 556.46,929.71" fill="none" stroke="#23405f" stroke-width="1.3"/>
<polygon points="620.35,931.6 621.65,935.61 625.87,935.61 622.46,938.08 623.76,942.09 620.35,939.62 616.94,942.09 618.24,938.08 614.83,935.61 619.05,935.61" fill="none" stroke="#23405f" stroke-width="1.3"/>
<polygon points="690.76,924.6 692.06,928.61 696.28,928.61 692.87,931.08 694.17,935.09 690.76,932.62 687.35,935.09 688.66,931.08 685.25,928.61 689.46,928.61" fill="none" stroke="#23405f" stroke-width="1.3"/>
<polyline points="135.29,845.6 205.71,856 276.12,873.2 346.53,875.9 424.76,898.6 495.18,903.2 557.76,940.5 620.35,938.9 690.76,963" fill="none" stroke="#1a1850" stroke-width="1.55" stroke-dasharray="4.1 4.2" clip-path="url(#cr)"/>
<g clip-path="url(#cr)">
<line x1="495.18" y1="896.3" x2="495.18" y2="898" stroke="#1a1850" stroke-width="1.4" stroke-dasharray="4.1 4.2"/>
<line x1="492.68" y1="896.3" x2="497.68" y2="896.3" stroke="#1a1850" stroke-width="1.4"/>
<line x1="495.18" y1="910.51" x2="495.18" y2="908.4" stroke="#1a1850" stroke-width="1.4" stroke-dasharray="4.1 4.2"/>
<line x1="492.68" y1="910.51" x2="497.68" y2="910.51" stroke="#1a1850" stroke-width="1.4"/>
<line x1="557.76" y1="931.4" x2="557.76" y2="935.3" stroke="#1a1850" stroke-width="1.4" stroke-dasharray="4.1 4.2"/>
<line x1="555.26" y1="931.4" x2="560.26" y2="931.4" stroke="#1a1850" stroke-width="1.4"/>
<line x1="557.76" y1="950.15" x2="557.76" y2="945.7" stroke="#1a1850" stroke-width="1.4" stroke-dasharray="4.1 4.2"/>
<line x1="555.26" y1="950.15" x2="560.26" y2="950.15" stroke="#1a1850" stroke-width="1.4"/>
<line x1="620.35" y1="927.4" x2="620.35" y2="933.7" stroke="#1a1850" stroke-width="1.4" stroke-dasharray="4.1 4.2"/>
<line x1="617.85" y1="927.4" x2="622.85" y2="927.4" stroke="#1a1850" stroke-width="1.4"/>
<line x1="620.35" y1="951.09" x2="620.35" y2="944.1" stroke="#1a1850" stroke-width="1.4" stroke-dasharray="4.1 4.2"/>
<line x1="617.85" y1="951.09" x2="622.85" y2="951.09" stroke="#1a1850" stroke-width="1.4"/>
</g>
<polygon points="130.29,840.85 140.29,840.85 135.29,850.35" fill="#1a1850"/>
<polygon points="200.71,851.25 210.71,851.25 205.71,860.75" fill="#1a1850"/>
<polygon points="271.12,868.45 281.12,868.45 276.12,877.95" fill="#1a1850"/>
<polygon points="341.53,871.15 351.53,871.15 346.53,880.65" fill="#1a1850"/>
<polygon points="419.76,893.85 429.76,893.85 424.76,903.35" fill="#1a1850"/>
<polygon points="490.18,898.45 500.18,898.45 495.18,907.95" fill="#1a1850"/>
<polygon points="552.76,935.75 562.76,935.75 557.76,945.25" fill="#1a1850"/>
<polygon points="615.35,934.15 625.35,934.15 620.35,943.65" fill="#1a1850"/>
</g>
<g id="ticks" stroke="#000">
<line x1="104" y1="35" x2="104" y2="50.4" stroke="#000" stroke-width="1.7"/>
<line x1="104" y1="619.2" x2="104" y2="634.6" stroke="#000" stroke-width="1.7"/>
<line x1="104" y1="634.6" x2="104" y2="644.7" stroke="#000" stroke-width="1.7"/>
<line x1="104" y1="945.7" x2="104" y2="955.8" stroke="#000" stroke-width="1.7"/>
<line x1="119.65" y1="35" x2="119.65" y2="39" stroke="#000" stroke-width="1.3"/>
<line x1="119.65" y1="630.6" x2="119.65" y2="634.6" stroke="#000" stroke-width="1.3"/>
<line x1="119.65" y1="634.6" x2="119.65" y2="637.6" stroke="#000" stroke-width="1.3"/>
<line x1="119.65" y1="952.8" x2="119.65" y2="955.8" stroke="#000" stroke-width="1.3"/>
<line x1="135.29" y1="35" x2="135.29" y2="42.6" stroke="#000" stroke-width="1.3"/>
<line x1="135.29" y1="627" x2="135.29" y2="634.6" stroke="#000" stroke-width="1.3"/>
<line x1="135.29" y1="634.6" x2="135.29" y2="639.6" stroke="#000" stroke-width="1.3"/>
<line x1="135.29" y1="950.8" x2="135.29" y2="955.8" stroke="#000" stroke-width="1.3"/>
<line x1="150.94" y1="35" x2="150.94" y2="39" stroke="#000" stroke-width="1.3"/>
<line x1="150.94" y1="630.6" x2="150.94" y2="634.6" stroke="#000" stroke-width="1.3"/>
<line x1="150.94" y1="634.6" x2="150.94" y2="637.6" stroke="#000" stroke-width="1.3"/>
<line x1="150.94" y1="952.8" x2="150.94" y2="955.8" stroke="#000" stroke-width="1.3"/>
<line x1="166.59" y1="35" x2="166.59" y2="42.6" stroke="#000" stroke-width="1.3"/>
<line x1="166.59" y1="627" x2="166.59" y2="634.6" stroke="#000" stroke-width="1.3"/>
<line x1="166.59" y1="634.6" x2="166.59" y2="639.6" stroke="#000" stroke-width="1.3"/>
<line x1="166.59" y1="950.8" x2="166.59" y2="955.8" stroke="#000" stroke-width="1.3"/>
<line x1="182.24" y1="35" x2="182.24" y2="39" stroke="#000" stroke-width="1.3"/>
<line x1="182.24" y1="630.6" x2="182.24" y2="634.6" stroke="#000" stroke-width="1.3"/>
<line x1="182.24" y1="634.6" x2="182.24" y2="637.6" stroke="#000" stroke-width="1.3"/>
<line x1="182.24" y1="952.8" x2="182.24" y2="955.8" stroke="#000" stroke-width="1.3"/>
<line x1="197.88" y1="35" x2="197.88" y2="42.6" stroke="#000" stroke-width="1.3"/>
<line x1="197.88" y1="627" x2="197.88" y2="634.6" stroke="#000" stroke-width="1.3"/>
<line x1="197.88" y1="634.6" x2="197.88" y2="639.6" stroke="#000" stroke-width="1.3"/>
<line x1="197.88" y1="950.8" x2="197.88" y2="955.8" stroke="#000" stroke-width="1.3"/>
<line x1="213.53" y1="35" x2="213.53" y2="39" stroke="#000" stroke-width="1.3"/>
<line x1="213.53" y1="630.6" x2="213.53" y2="634.6" stroke="#000" stroke-width="1.3"/>
<line x1="213.53" y1="634.6" x2="213.53" y2="637.6" stroke="#000" stroke-width="1.3"/>
<line x1="213.53" y1="952.8" x2="213.53" y2="955.8" stroke="#000" stroke-width="1.3"/>
<line x1="229.18" y1="35" x2="229.18" y2="42.6" stroke="#000" stroke-width="1.3"/>
<line x1="229.18" y1="627" x2="229.18" y2="634.6" stroke="#000" stroke-width="1.3"/>
<line x1="229.18" y1="634.6" x2="229.18" y2="639.6" stroke="#000" stroke-width="1.3"/>
<line x1="229.18" y1="950.8" x2="229.18" y2="955.8" stroke="#000" stroke-width="1.3"/>
<line x1="244.82" y1="35" x2="244.82" y2="39" stroke="#000" stroke-width="1.3"/>
<line x1="244.82" y1="630.6" x2="244.82" y2="634.6" stroke="#000" stroke-width="1.3"/>
<line x1="244.82" y1="634.6" x2="244.82" y2="637.6" stroke="#000" stroke-width="1.3"/>
<line x1="244.82" y1="952.8" x2="244.82" y2="955.8" stroke="#000" stroke-width="1.3"/>
<line x1="260.47" y1="35" x2="260.47" y2="50.4" stroke="#000" stroke-width="1.7"/>
<line x1="260.47" y1="619.2" x2="260.47" y2="634.6" stroke="#000" stroke-width="1.7"/>
<line x1="260.47" y1="634.6" x2="260.47" y2="644.7" stroke="#000" stroke-width="1.7"/>
<line x1="260.47" y1="945.7" x2="260.47" y2="955.8" stroke="#000" stroke-width="1.7"/>
<line x1="276.12" y1="35" x2="276.12" y2="39" stroke="#000" stroke-width="1.3"/>
<line x1="276.12" y1="630.6" x2="276.12" y2="634.6" stroke="#000" stroke-width="1.3"/>
<line x1="276.12" y1="634.6" x2="276.12" y2="637.6" stroke="#000" stroke-width="1.3"/>
<line x1="276.12" y1="952.8" x2="276.12" y2="955.8" stroke="#000" stroke-width="1.3"/>
<line x1="291.76" y1="35" x2="291.76" y2="42.6" stroke="#000" stroke-width="1.3"/>
<line x1="291.76" y1="627" x2="291.76" y2="634.6" stroke="#000" stroke-width="1.3"/>
<line x1="291.76" y1="634.6" x2="291.76" y2="639.6" stroke="#000" stroke-width="1.3"/>
<line x1="291.76" y1="950.8" x2="291.76" y2="955.8" stroke="#000" stroke-width="1.3"/>
<line x1="307.41" y1="35" x2="307.41" y2="39" stroke="#000" stroke-width="1.3"/>
<line x1="307.41" y1="630.6" x2="307.41" y2="634.6" stroke="#000" stroke-width="1.3"/>
<line x1="307.41" y1="634.6" x2="307.41" y2="637.6" stroke="#000" stroke-width="1.3"/>
<line x1="307.41" y1="952.8" x2="307.41" y2="955.8" stroke="#000" stroke-width="1.3"/>
<line x1="323.06" y1="35" x2="323.06" y2="42.6" stroke="#000" stroke-width="1.3"/>
<line x1="323.06" y1="627" x2="323.06" y2="634.6" stroke="#000" stroke-width="1.3"/>
<line x1="323.06" y1="634.6" x2="323.06" y2="639.6" stroke="#000" stroke-width="1.3"/>
<line x1="323.06" y1="950.8" x2="323.06" y2="955.8" stroke="#000" stroke-width="1.3"/>
<line x1="338.7" y1="35" x2="338.7" y2="39" stroke="#000" stroke-width="1.3"/>
<line x1="338.7" y1="630.6" x2="338.7" y2="634.6" stroke="#000" stroke-width="1.3"/>
<line x1="338.7" y1="634.6" x2="338.7" y2="637.6" stroke="#000" stroke-width="1.3"/>
<line x1="338.7" y1="952.8" x2="338.7" y2="955.8" stroke="#000" stroke-width="1.3"/>
<line x1="354.35" y1="35" x2="354.35" y2="42.6" stroke="#000" stroke-width="1.3"/>
<line x1="354.35" y1="627" x2="354.35" y2="634.6" stroke="#000" stroke-width="1.3"/>
<line x1="354.35" y1="634.6" x2="354.35" y2="639.6" stroke="#000" stroke-width="1.3"/>
<line x1="354.35" y1="950.8" x2="354.35" y2="955.8" stroke="#000" stroke-width="1.3"/>
<line x1="370" y1="35" x2="370" y2="39" stroke="#000" stroke-width="1.3"/>
<line x1="370" y1="630.6" x2="370" y2="634.6" stroke="#000" stroke-width="1.3"/>
<line x1="370" y1="634.6" x2="370" y2="637.6" stroke="#000" stroke-width="1.3"/>
<line x1="370" y1="952.8" x2="370" y2="955.8" stroke="#000" stroke-width="1.3"/>
<line x1="385.65" y1="35" x2="385.65" y2="42.6" stroke="#000" stroke-width="1.3"/>
<line x1="385.65" y1="627" x2="385.65" y2="634.6" stroke="#000" stroke-width="1.3"/>
<line x1="385.65" y1="634.6" x2="385.65" y2="639.6" stroke="#000" stroke-width="1.3"/>
<line x1="385.65" y1="950.8" x2="385.65" y2="955.8" stroke="#000" stroke-width="1.3"/>
<line x1="401.29" y1="35" x2="401.29" y2="39" stroke="#000" stroke-width="1.3"/>
<line x1="401.29" y1="630.6" x2="401.29" y2="634.6" stroke="#000" stroke-width="1.3"/>
<line x1="401.29" y1="634.6" x2="401.29" y2="637.6" stroke="#000" stroke-width="1.3"/>
<line x1="401.29" y1="952.8" x2="401.29" y2="955.8" stroke="#000" stroke-width="1.3"/>
<line x1="416.94" y1="35" x2="416.94" y2="50.4" stroke="#000" stroke-width="1.7"/>
<line x1="416.94" y1="619.2" x2="416.94" y2="634.6" stroke="#000" stroke-width="1.7"/>
<line x1="416.94" y1="634.6" x2="416.94" y2="644.7" stroke="#000" stroke-width="1.7"/>
<line x1="416.94" y1="945.7" x2="416.94" y2="955.8" stroke="#000" stroke-width="1.7"/>
<line x1="432.59" y1="35" x2="432.59" y2="39" stroke="#000" stroke-width="1.3"/>
<line x1="432.59" y1="630.6" x2="432.59" y2="634.6" stroke="#000" stroke-width="1.3"/>
<line x1="432.59" y1="634.6" x2="432.59" y2="637.6" stroke="#000" stroke-width="1.3"/>
<line x1="432.59" y1="952.8" x2="432.59" y2="955.8" stroke="#000" stroke-width="1.3"/>
<line x1="448.23" y1="35" x2="448.23" y2="42.6" stroke="#000" stroke-width="1.3"/>
<line x1="448.23" y1="627" x2="448.23" y2="634.6" stroke="#000" stroke-width="1.3"/>
<line x1="448.23" y1="634.6" x2="448.23" y2="639.6" stroke="#000" stroke-width="1.3"/>
<line x1="448.23" y1="950.8" x2="448.23" y2="955.8" stroke="#000" stroke-width="1.3"/>
<line x1="463.88" y1="35" x2="463.88" y2="39" stroke="#000" stroke-width="1.3"/>
<line x1="463.88" y1="630.6" x2="463.88" y2="634.6" stroke="#000" stroke-width="1.3"/>
<line x1="463.88" y1="634.6" x2="463.88" y2="637.6" stroke="#000" stroke-width="1.3"/>
<line x1="463.88" y1="952.8" x2="463.88" y2="955.8" stroke="#000" stroke-width="1.3"/>
<line x1="479.53" y1="35" x2="479.53" y2="42.6" stroke="#000" stroke-width="1.3"/>
<line x1="479.53" y1="627" x2="479.53" y2="634.6" stroke="#000" stroke-width="1.3"/>
<line x1="479.53" y1="634.6" x2="479.53" y2="639.6" stroke="#000" stroke-width="1.3"/>
<line x1="479.53" y1="950.8" x2="479.53" y2="955.8" stroke="#000" stroke-width="1.3"/>
<line x1="495.18" y1="35" x2="495.18" y2="39" stroke="#000" stroke-width="1.3"/>
<line x1="495.18" y1="630.6" x2="495.18" y2="634.6" stroke="#000" stroke-width="1.3"/>
<line x1="495.18" y1="634.6" x2="495.18" y2="637.6" stroke="#000" stroke-width="1.3"/>
<line x1="495.18" y1="952.8" x2="495.18" y2="955.8" stroke="#000" stroke-width="1.3"/>
<line x1="510.82" y1="35" x2="510.82" y2="42.6" stroke="#000" stroke-width="1.3"/>
<line x1="510.82" y1="627" x2="510.82" y2="634.6" stroke="#000" stroke-width="1.3"/>
<line x1="510.82" y1="634.6" x2="510.82" y2="639.6" stroke="#000" stroke-width="1.3"/>
<line x1="510.82" y1="950.8" x2="510.82" y2="955.8" stroke="#000" stroke-width="1.3"/>
<line x1="526.47" y1="35" x2="526.47" y2="39" stroke="#000" stroke-width="1.3"/>
<line x1="526.47" y1="630.6" x2="526.47" y2="634.6" stroke="#000" stroke-width="1.3"/>
<line x1="526.47" y1="634.6" x2="526.47" y2="637.6" stroke="#000" stroke-width="1.3"/>
<line x1="526.47" y1="952.8" x2="526.47" y2="955.8" stroke="#000" stroke-width="1.3"/>
<line x1="542.12" y1="35" x2="542.12" y2="42.6" stroke="#000" stroke-width="1.3"/>
<line x1="542.12" y1="627" x2="542.12" y2="634.6" stroke="#000" stroke-width="1.3"/>
<line x1="542.12" y1="634.6" x2="542.12" y2="639.6" stroke="#000" stroke-width="1.3"/>
<line x1="542.12" y1="950.8" x2="542.12" y2="955.8" stroke="#000" stroke-width="1.3"/>
<line x1="557.76" y1="35" x2="557.76" y2="39" stroke="#000" stroke-width="1.3"/>
<line x1="557.76" y1="630.6" x2="557.76" y2="634.6" stroke="#000" stroke-width="1.3"/>
<line x1="557.76" y1="634.6" x2="557.76" y2="637.6" stroke="#000" stroke-width="1.3"/>
<line x1="557.76" y1="952.8" x2="557.76" y2="955.8" stroke="#000" stroke-width="1.3"/>
<line x1="573.41" y1="35" x2="573.41" y2="50.4" stroke="#000" stroke-width="1.7"/>
<line x1="573.41" y1="619.2" x2="573.41" y2="634.6" stroke="#000" stroke-width="1.7"/>
<line x1="573.41" y1="634.6" x2="573.41" y2="644.7" stroke="#000" stroke-width="1.7"/>
<line x1="573.41" y1="945.7" x2="573.41" y2="955.8" stroke="#000" stroke-width="1.7"/>
<line x1="589.06" y1="35" x2="589.06" y2="39" stroke="#000" stroke-width="1.3"/>
<line x1="589.06" y1="630.6" x2="589.06" y2="634.6" stroke="#000" stroke-width="1.3"/>
<line x1="589.06" y1="634.6" x2="589.06" y2="637.6" stroke="#000" stroke-width="1.3"/>
<line x1="589.06" y1="952.8" x2="589.06" y2="955.8" stroke="#000" stroke-width="1.3"/>
<line x1="604.7" y1="35" x2="604.7" y2="42.6" stroke="#000" stroke-width="1.3"/>
<line x1="604.7" y1="627" x2="604.7" y2="634.6" stroke="#000" stroke-width="1.3"/>
<line x1="604.7" y1="634.6" x2="604.7" y2="639.6" stroke="#000" stroke-width="1.3"/>
<line x1="604.7" y1="950.8" x2="604.7" y2="955.8" stroke="#000" stroke-width="1.3"/>
<line x1="620.35" y1="35" x2="620.35" y2="39" stroke="#000" stroke-width="1.3"/>
<line x1="620.35" y1="630.6" x2="620.35" y2="634.6" stroke="#000" stroke-width="1.3"/>
<line x1="620.35" y1="634.6" x2="620.35" y2="637.6" stroke="#000" stroke-width="1.3"/>
<line x1="620.35" y1="952.8" x2="620.35" y2="955.8" stroke="#000" stroke-width="1.3"/>
<line x1="636" y1="35" x2="636" y2="42.6" stroke="#000" stroke-width="1.3"/>
<line x1="636" y1="627" x2="636" y2="634.6" stroke="#000" stroke-width="1.3"/>
<line x1="636" y1="634.6" x2="636" y2="639.6" stroke="#000" stroke-width="1.3"/>
<line x1="636" y1="950.8" x2="636" y2="955.8" stroke="#000" stroke-width="1.3"/>
<line x1="651.64" y1="35" x2="651.64" y2="39" stroke="#000" stroke-width="1.3"/>
<line x1="651.64" y1="630.6" x2="651.64" y2="634.6" stroke="#000" stroke-width="1.3"/>
<line x1="651.64" y1="634.6" x2="651.64" y2="637.6" stroke="#000" stroke-width="1.3"/>
<line x1="651.64" y1="952.8" x2="651.64" y2="955.8" stroke="#000" stroke-width="1.3"/>
<line x1="667.29" y1="35" x2="667.29" y2="42.6" stroke="#000" stroke-width="1.3"/>
<line x1="667.29" y1="627" x2="667.29" y2="634.6" stroke="#000" stroke-width="1.3"/>
<line x1="667.29" y1="634.6" x2="667.29" y2="639.6" stroke="#000" stroke-width="1.3"/>
<line x1="667.29" y1="950.8" x2="667.29" y2="955.8" stroke="#000" stroke-width="1.3"/>
<line x1="682.94" y1="35" x2="682.94" y2="39" stroke="#000" stroke-width="1.3"/>
<line x1="682.94" y1="630.6" x2="682.94" y2="634.6" stroke="#000" stroke-width="1.3"/>
<line x1="682.94" y1="634.6" x2="682.94" y2="637.6" stroke="#000" stroke-width="1.3"/>
<line x1="682.94" y1="952.8" x2="682.94" y2="955.8" stroke="#000" stroke-width="1.3"/>
<line x1="698.59" y1="35" x2="698.59" y2="42.6" stroke="#000" stroke-width="1.3"/>
<line x1="698.59" y1="627" x2="698.59" y2="634.6" stroke="#000" stroke-width="1.3"/>
<line x1="698.59" y1="634.6" x2="698.59" y2="639.6" stroke="#000" stroke-width="1.3"/>
<line x1="698.59" y1="950.8" x2="698.59" y2="955.8" stroke="#000" stroke-width="1.3"/>
<line x1="714.23" y1="35" x2="714.23" y2="39" stroke="#000" stroke-width="1.3"/>
<line x1="714.23" y1="630.6" x2="714.23" y2="634.6" stroke="#000" stroke-width="1.3"/>
<line x1="714.23" y1="634.6" x2="714.23" y2="637.6" stroke="#000" stroke-width="1.3"/>
<line x1="714.23" y1="952.8" x2="714.23" y2="955.8" stroke="#000" stroke-width="1.3"/>
<line x1="729.88" y1="35" x2="729.88" y2="50.4" stroke="#000" stroke-width="1.7"/>
<line x1="729.88" y1="619.2" x2="729.88" y2="634.6" stroke="#000" stroke-width="1.7"/>
<line x1="729.88" y1="634.6" x2="729.88" y2="644.7" stroke="#000" stroke-width="1.7"/>
<line x1="729.88" y1="945.7" x2="729.88" y2="955.8" stroke="#000" stroke-width="1.7"/>
<line x1="91.2" y1="630.94" x2="102.6" y2="630.94" stroke="#000" stroke-width="1.2"/>
<line x1="730.6" y1="630.94" x2="742" y2="630.94" stroke="#000" stroke-width="1.2"/>
<line x1="91.2" y1="602.65" x2="102.6" y2="602.65" stroke="#000" stroke-width="1.2"/>
<line x1="730.6" y1="602.65" x2="742" y2="602.65" stroke="#000" stroke-width="1.2"/>
<line x1="91.2" y1="582.58" x2="102.6" y2="582.58" stroke="#000" stroke-width="1.2"/>
<line x1="730.6" y1="582.58" x2="742" y2="582.58" stroke="#000" stroke-width="1.2"/>
<line x1="91.2" y1="567.01" x2="102.6" y2="567.01" stroke="#000" stroke-width="1.2"/>
<line x1="730.6" y1="567.01" x2="742" y2="567.01" stroke="#000" stroke-width="1.2"/>
<line x1="91.2" y1="554.29" x2="102.6" y2="554.29" stroke="#000" stroke-width="1.2"/>
<line x1="730.6" y1="554.29" x2="742" y2="554.29" stroke="#000" stroke-width="1.2"/>
<line x1="91.2" y1="543.53" x2="102.6" y2="543.53" stroke="#000" stroke-width="1.2"/>
<line x1="730.6" y1="543.53" x2="742" y2="543.53" stroke="#000" stroke-width="1.2"/>
<line x1="91.2" y1="534.22" x2="102.6" y2="534.22" stroke="#000" stroke-width="1.2"/>
<line x1="730.6" y1="534.22" x2="742" y2="534.22" stroke="#000" stroke-width="1.2"/>
<line x1="91.2" y1="526" x2="102.6" y2="526" stroke="#000" stroke-width="1.2"/>
<line x1="730.6" y1="526" x2="742" y2="526" stroke="#000" stroke-width="1.2"/>
<line x1="91.2" y1="518.65" x2="113.8" y2="518.65" stroke="#000" stroke-width="1.2"/>
<line x1="719.4" y1="518.65" x2="742" y2="518.65" stroke="#000" stroke-width="1.2"/>
<line x1="91.2" y1="470.29" x2="102.6" y2="470.29" stroke="#000" stroke-width="1.2"/>
<line x1="730.6" y1="470.29" x2="742" y2="470.29" stroke="#000" stroke-width="1.2"/>
<line x1="91.2" y1="442" x2="102.6" y2="442" stroke="#000" stroke-width="1.2"/>
<line x1="730.6" y1="442" x2="742" y2="442" stroke="#000" stroke-width="1.2"/>
<line x1="91.2" y1="421.93" x2="102.6" y2="421.93" stroke="#000" stroke-width="1.2"/>
<line x1="730.6" y1="421.93" x2="742" y2="421.93" stroke="#000" stroke-width="1.2"/>
<line x1="91.2" y1="406.36" x2="102.6" y2="406.36" stroke="#000" stroke-width="1.2"/>
<line x1="730.6" y1="406.36" x2="742" y2="406.36" stroke="#000" stroke-width="1.2"/>
<line x1="91.2" y1="393.64" x2="102.6" y2="393.64" stroke="#000" stroke-width="1.2"/>
<line x1="730.6" y1="393.64" x2="742" y2="393.64" stroke="#000" stroke-width="1.2"/>
<line x1="91.2" y1="382.88" x2="102.6" y2="382.88" stroke="#000" stroke-width="1.2"/>
<line x1="730.6" y1="382.88" x2="742" y2="382.88" stroke="#000" stroke-width="1.2"/>
<line x1="91.2" y1="373.57" x2="102.6" y2="373.57" stroke="#000" stroke-width="1.2"/>
<line x1="730.6" y1="373.57" x2="742" y2="373.57" stroke="#000" stroke-width="1.2"/>
<line x1="91.2" y1="365.35" x2="102.6" y2="365.35" stroke="#000" stroke-width="1.2"/>
<line x1="730.6" y1="365.35" x2="742" y2="365.35" stroke="#000" stroke-width="1.2"/>
<line x1="91.2" y1="358" x2="113.8" y2="358" stroke="#000" stroke-width="1.2"/>
<line x1="719.4" y1="358" x2="742" y2="358" stroke="#000" stroke-width="1.2"/>
<line x1="91.2" y1="309.64" x2="102.6" y2="309.64" stroke="#000" stroke-width="1.2"/>
<line x1="730.6" y1="309.64" x2="742" y2="309.64" stroke="#000" stroke-width="1.2"/>
<line x1="91.2" y1="281.35" x2="102.6" y2="281.35" stroke="#000" stroke-width="1.2"/>
<line x1="730.6" y1="281.35" x2="742" y2="281.35" stroke="#000" stroke-width="1.2"/>
<line x1="91.2" y1="261.28" x2="102.6" y2="261.28" stroke="#000" stroke-width="1.2"/>
<line x1="730.6" y1="261.28" x2="742" y2="261.28" stroke="#000" stroke-width="1.2"/>
<line x1="91.2" y1="245.71" x2="102.6" y2="245.71" stroke="#000" stroke-width="1.2"/>
<line x1="730.6" y1="245.71" x2="742" y2="245.71" stroke="#000" stroke-width="1.2"/>
<line x1="91.2" y1="232.99" x2="102.6" y2="232.99" stroke="#000" stroke-width="1.2"/>
<line x1="730.6" y1="232.99" x2="742" y2="232.99" stroke="#000" stroke-width="1.2"/>
<line x1="91.2" y1="222.23" x2="102.6" y2="222.23" stroke="#000" stroke-width="1.2"/>
<line x1="730.6" y1="222.23" x2="742" y2="222.23" stroke="#000" stroke-width="1.2"/>
<line x1="91.2" y1="212.92" x2="102.6" y2="212.92" stroke="#000" stroke-width="1.2"/>
<line x1="730.6" y1="212.92" x2="742" y2="212.92" stroke="#000" stroke-width="1.2"/>
<line x1="91.2" y1="204.7" x2="102.6" y2="204.7" stroke="#000" stroke-width="1.2"/>
<line x1="730.6" y1="204.7" x2="742" y2="204.7" stroke="#000" stroke-width="1.2"/>
<line x1="91.2" y1="197.35" x2="113.8" y2="197.35" stroke="#000" stroke-width="1.2"/>
<line x1="719.4" y1="197.35" x2="742" y2="197.35" stroke="#000" stroke-width="1.2"/>
<line x1="91.2" y1="148.99" x2="102.6" y2="148.99" stroke="#000" stroke-width="1.2"/>
<line x1="730.6" y1="148.99" x2="742" y2="148.99" stroke="#000" stroke-width="1.2"/>
<line x1="91.2" y1="120.7" x2="102.6" y2="120.7" stroke="#000" stroke-width="1.2"/>
<line x1="730.6" y1="120.7" x2="742" y2="120.7" stroke="#000" stroke-width="1.2"/>
<line x1="91.2" y1="100.63" x2="102.6" y2="100.63" stroke="#000" stroke-width="1.2"/>
<line x1="730.6" y1="100.63" x2="742" y2="100.63" stroke="#000" stroke-width="1.2"/>
<line x1="91.2" y1="85.06" x2="102.6" y2="85.06" stroke="#000" stroke-width="1.2"/>
<line x1="730.6" y1="85.06" x2="742" y2="85.06" stroke="#000" stroke-width="1.2"/>
<line x1="91.2" y1="72.34" x2="102.6" y2="72.34" stroke="#000" stroke-width="1.2"/>
<line x1="730.6" y1="72.34" x2="742" y2="72.34" stroke="#000" stroke-width="1.2"/>
<line x1="91.2" y1="61.58" x2="102.6" y2="61.58" stroke="#000" stroke-width="1.2"/>
<line x1="730.6" y1="61.58" x2="742" y2="61.58" stroke="#000" stroke-width="1.2"/>
<line x1="91.2" y1="52.27" x2="102.6" y2="52.27" stroke="#000" stroke-width="1.2"/>
<line x1="730.6" y1="52.27" x2="742" y2="52.27" stroke="#000" stroke-width="1.2"/>
<line x1="91.2" y1="44.05" x2="102.6" y2="44.05" stroke="#000" stroke-width="1.2"/>
<line x1="730.6" y1="44.05" x2="742" y2="44.05" stroke="#000" stroke-width="1.2"/>
<line x1="91.2" y1="36.7" x2="113.8" y2="36.7" stroke="#000" stroke-width="1.2"/>
<line x1="719.4" y1="36.7" x2="742" y2="36.7" stroke="#000" stroke-width="1.2"/>
<line x1="91.2" y1="916.78" x2="105.8" y2="916.78" stroke="#000" stroke-width="1.2"/>
<line x1="727.4" y1="916.78" x2="742" y2="916.78" stroke="#000" stroke-width="1.2"/>
<line x1="91.2" y1="884.85" x2="101.2" y2="884.85" stroke="#000" stroke-width="1.2"/>
<line x1="732" y1="884.85" x2="742" y2="884.85" stroke="#000" stroke-width="1.2"/>
<line x1="91.2" y1="857.86" x2="101.2" y2="857.86" stroke="#000" stroke-width="1.2"/>
<line x1="732" y1="857.86" x2="742" y2="857.86" stroke="#000" stroke-width="1.2"/>
<line x1="91.2" y1="834.47" x2="101.2" y2="834.47" stroke="#000" stroke-width="1.2"/>
<line x1="732" y1="834.47" x2="742" y2="834.47" stroke="#000" stroke-width="1.2"/>
<line x1="91.2" y1="813.85" x2="101.2" y2="813.85" stroke="#000" stroke-width="1.2"/>
<line x1="732" y1="813.85" x2="742" y2="813.85" stroke="#000" stroke-width="1.2"/>
<line x1="91.2" y1="795.4" x2="105.8" y2="795.4" stroke="#000" stroke-width="1.2"/>
<line x1="727.4" y1="795.4" x2="742" y2="795.4" stroke="#000" stroke-width="1.2"/>
<line x1="91.2" y1="778.71" x2="101.2" y2="778.71" stroke="#000" stroke-width="1.2"/>
<line x1="732" y1="778.71" x2="742" y2="778.71" stroke="#000" stroke-width="1.2"/>
<line x1="91.2" y1="763.47" x2="101.2" y2="763.47" stroke="#000" stroke-width="1.2"/>
<line x1="732" y1="763.47" x2="742" y2="763.47" stroke="#000" stroke-width="1.2"/>
<line x1="91.2" y1="749.46" x2="101.2" y2="749.46" stroke="#000" stroke-width="1.2"/>
<line x1="732" y1="749.46" x2="742" y2="749.46" stroke="#000" stroke-width="1.2"/>
<line x1="91.2" y1="736.48" x2="101.2" y2="736.48" stroke="#000" stroke-width="1.2"/>
<line x1="732" y1="736.48" x2="742" y2="736.48" stroke="#000" stroke-width="1.2"/>
<line x1="91.2" y1="724.4" x2="101.2" y2="724.4" stroke="#000" stroke-width="1.2"/>
<line x1="732" y1="724.4" x2="742" y2="724.4" stroke="#000" stroke-width="1.2"/>
<line x1="91.2" y1="713.1" x2="101.2" y2="713.1" stroke="#000" stroke-width="1.2"/>
<line x1="732" y1="713.1" x2="742" y2="713.1" stroke="#000" stroke-width="1.2"/>
<line x1="91.2" y1="702.48" x2="101.2" y2="702.48" stroke="#000" stroke-width="1.2"/>
<line x1="732" y1="702.48" x2="742" y2="702.48" stroke="#000" stroke-width="1.2"/>
<line x1="91.2" y1="692.47" x2="101.2" y2="692.47" stroke="#000" stroke-width="1.2"/>
<line x1="732" y1="692.47" x2="742" y2="692.47" stroke="#000" stroke-width="1.2"/>
<line x1="91.2" y1="683.01" x2="101.2" y2="683.01" stroke="#000" stroke-width="1.2"/>
<line x1="732" y1="683.01" x2="742" y2="683.01" stroke="#000" stroke-width="1.2"/>
<line x1="91.2" y1="674.02" x2="105.8" y2="674.02" stroke="#000" stroke-width="1.2"/>
<line x1="727.4" y1="674.02" x2="742" y2="674.02" stroke="#000" stroke-width="1.2"/>
<line x1="91.2" y1="665.48" x2="101.2" y2="665.48" stroke="#000" stroke-width="1.2"/>
<line x1="732" y1="665.48" x2="742" y2="665.48" stroke="#000" stroke-width="1.2"/>
<line x1="91.2" y1="657.34" x2="101.2" y2="657.34" stroke="#000" stroke-width="1.2"/>
<line x1="732" y1="657.34" x2="742" y2="657.34" stroke="#000" stroke-width="1.2"/>
<line x1="91.2" y1="649.55" x2="101.2" y2="649.55" stroke="#000" stroke-width="1.2"/>
<line x1="732" y1="649.55" x2="742" y2="649.55" stroke="#000" stroke-width="1.2"/>
<line x1="91.2" y1="642.1" x2="101.2" y2="642.1" stroke="#000" stroke-width="1.2"/>
<line x1="732" y1="642.1" x2="742" y2="642.1" stroke="#000" stroke-width="1.2"/>
</g>
<g id="frame" fill="none" stroke="#000" stroke-width="1.9">
<rect x="91.2" y="35" width="650.8" height="920.8"/>
<line x1="91.2" y1="634.6" x2="742" y2="634.6" stroke="#000" stroke-width="1.9"/>
</g>
<g id="labels" fill="#000">
<text transform="translate(104.3 28.6) scale(1.05 1)" font-size="22.86">13000 GeV pp</text>
<text transform="translate(730.6 28.8) scale(1.05 1)" font-size="22.67" text-anchor="end">Z+Jet</text>
<text transform="translate(339.5 85.5) scale(1.05 1)" font-size="22.95">≥ 1 btag events</text>
<text x="325.6" y="604" font-size="16" fill="#a3a3a3">(ATLAS_2020_I1788444)</text>
<text x="104" y="978.2" font-size="23.0" text-anchor="middle">0</text>
<text x="260.47" y="978.2" font-size="23.0" text-anchor="middle">1</text>
<text x="416.94" y="978.2" font-size="23.0" text-anchor="middle">2</text>
<text x="573.41" y="978.2" font-size="23.0" text-anchor="middle">3</text>
<text x="729.88" y="978.2" font-size="23.0" text-anchor="middle">4</text>
<text x="78.6" y="206.2" font-size="23.0" text-anchor="end">10</text>
<text x="79.6" y="366.2" font-size="23.0" text-anchor="end">1</text>
<text x="70.4" y="48.2" font-size="23.0" text-anchor="end">10</text>
<text x="71.2" y="38.3" font-size="14.2">2</text>
<text x="64.8" y="528.9" font-size="23.0" text-anchor="end">10</text>
<text x="64.9" y="520.5" font-size="14.2">−1</text>
<text x="77" y="683" font-size="23.0" text-anchor="end">2</text>
<text x="77" y="804.8" font-size="23.0" text-anchor="end">1</text>
<text x="77" y="925.2" font-size="23.0" text-anchor="end">0.5</text>
<text x="747.6" y="682.2" font-size="23.0">2</text>
<text x="747.6" y="804.2" font-size="23.0">1</text>
<text x="747.6" y="925.2" font-size="23.0">0.5</text>
<text x="742.2" y="1000.6" font-size="25" text-anchor="end"><tspan font-size="23">Δ</tspan> y<tspan font-size="17" dy="14.6">{Zb</tspan><tspan dy="-14.6">}</tspan></text>
<text transform="translate(26.7 35.4) rotate(-90) scale(1 1.07)" font-size="23.7" text-anchor="end">dσ/d<tspan font-size="22">Δ</tspan> y<tspan font-size="16" dy="11.6">{Zb</tspan><tspan dy="-11.6">}</tspan></text>
<text transform="translate(36.5 793.8) rotate(-90) scale(1 1.04)" font-size="18.2" text-anchor="middle">Ratio to ATLAS</text>
<text transform="translate(760.3 254.3) rotate(-90) scale(1 1.075)" font-size="18.8" fill="#808080">Rivet 4.1.0, ≥ 3.7M events</text>
<text transform="translate(761.8 628.8) rotate(-90) scale(1 1.065)" font-size="19" fill="#808080">mcplots.cern.ch [arXiv:2401.10621]</text>
</g>
<g id="legend">
<rect x="147.75" y="391" width="10.7" height="10.4" fill="#000"/>
<text x="187.6" y="402.2" font-size="19.4">ATLAS</text>
<line x1="128.7" y1="422.23" x2="175.4" y2="422.23" stroke="#7a3f73" stroke-width="1.55" stroke-dasharray="7.3 3.7 1.9 3.7"/>
<circle cx="153.1" cy="422.23" r="4.7" fill="none" stroke="#7a3f73" stroke-width="1.3"/>
<text x="187.6" y="428.23" font-size="19.4" letter-spacing="-0.2">Pythia 6.428 390</text>
<line x1="128.7" y1="448.26" x2="175.4" y2="448.26" stroke="#6b2a4f" stroke-width="1.55" stroke-dasharray="7.3 3.7 1.9 3.7"/>
<rect x="148.3" y="443.66" width="9.6" height="9.2" fill="none" stroke="#6b2a4f" stroke-width="1.3"/>
<text x="187.6" y="454.26" font-size="19.4" letter-spacing="-0.2">Pythia 6.428 391</text>
<line x1="128.7" y1="474.29" x2="175.4" y2="474.29" stroke="#4b1480" stroke-width="1.55" stroke-dasharray="7.3 3.7 1.9 3.7"/>
<polygon points="153.1,469.29 155.9,474.29 153.1,479.29 150.3,474.29" fill="none" stroke="#4b1480" stroke-width="1.3"/>
<text x="187.6" y="480.29" font-size="19.4" letter-spacing="-0.2">Pythia 6.428 392</text>
<line x1="128.7" y1="500.32" x2="175.4" y2="500.32" stroke="#3f6b78" stroke-width="1.55" stroke-dasharray="4.1 4.2"/>
<polygon points="153.1,495.12 154.27,498.71 158.05,498.71 154.99,500.93 156.16,504.53 153.1,502.31 150.04,504.53 151.21,500.93 148.15,498.71 151.93,498.71" fill="#3f6b78" stroke="#3f6b78" stroke-width="0.7" stroke-linejoin="miter"/>
<text x="187.6" y="506.32" font-size="19.4" letter-spacing="-0.2">Pythia 6.428 396</text>
<line x1="128.7" y1="526.35" x2="175.4" y2="526.35" stroke="#23405f" stroke-width="1.55" stroke-dasharray="4.1 4.2"/>
<polygon points="153.1,520.55 154.4,524.56 158.62,524.56 155.21,527.03 156.51,531.04 153.1,528.57 149.69,531.04 150.99,527.03 147.58,524.56 151.8,524.56" fill="none" stroke="#23405f" stroke-width="1.3"/>
<text x="187.6" y="532.35" font-size="19.4" letter-spacing="-0.2">Pythia 6.428 397</text>
<line x1="128.7" y1="552.38" x2="175.4" y2="552.38" stroke="#1a1850" stroke-width="1.55" stroke-dasharray="4.1 4.2"/>
<polygon points="148.1,547.63 158.1,547.63 153.1,557.13" fill="#1a1850"/>
<text x="187.6" y="558.38" font-size="19.4" letter-spacing="-0.2">Pythia 6.428 398</text>
</g>
</svg>
</body>
</html>
